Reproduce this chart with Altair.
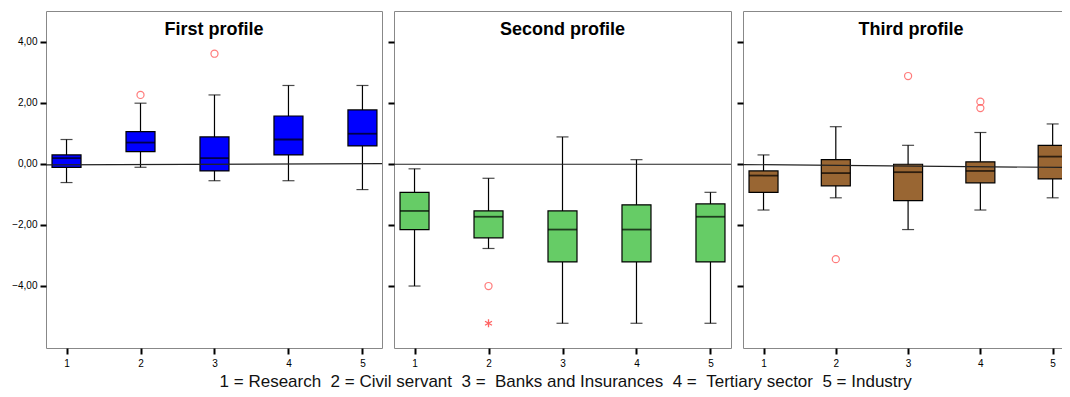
import altair as alt
import pandas as pd

profiles = ["First profile", "Second profile", "Third profile"]
colors = ["#0000FF", "#66CC66", "#996633"]
cats = [1, 2, 3, 4, 5]
NB = "\u00a0"
caption = ("1 = Research " + NB + "2 = Civil servant " + NB + "3 = " + NB + "Banks and Insurances "
           + NB + "4 = " + NB + "Tertiary sector " + NB + "5 = Industry")

# box statistics (lower whisker, Q1, median, Q3, upper whisker)
p1_wlo = [-0.62, -0.12, -0.56, -0.56, -0.85]
p1_q1 = [-0.12, 0.39, -0.24, 0.285, 0.58]
p1_med = [0.18, 0.69, 0.18, 0.79, 0.98]
p1_q3 = [0.285, 1.05, 0.875, 1.56, 1.76]
p1_whi = [0.79, 1.98, 2.25, 2.56, 2.56]

p2_wlo = [-4.01, -2.78, -5.23, -5.23, -5.23]
p2_q1 = [-2.16, -2.43, -3.22, -3.22, -3.22]
p2_med = [-1.55, -1.74, -2.16, -2.16, -1.74]
p2_q3 = [-0.94, -1.55, -1.55, -1.35, -1.32]
p2_whi = [-0.17, -0.48, 0.875, 0.13, -0.94]

p3_wlo = [-1.52, -1.12, -2.16, -1.52, -1.12]
p3_q1 = [-0.94, -0.73, -1.21, -0.63, -0.50]
p3_med = [-0.39, -0.31, -0.28, -0.24, 0.23]
p3_q3 = [-0.24, 0.13, -0.02, 0.06, 0.60]
p3_whi = [0.285, 1.21, 0.60, 1.02, 1.30]

# outliers: panel index, category, value, kind
out_panel = [0, 0, 1, 1, 2, 2, 2, 2]
out_cat = [2, 3, 2, 2, 2, 3, 4, 4]
out_val = [2.25, 3.60, -4.01, -5.23, -3.13, 2.87, 2.03, 1.82]
out_kind = ["o", "o", "o", "*", "o", "o", "o", "o"]

# reference line near zero (left end, right end) per panel
ref_left = [-0.04, -0.02, -0.03]
ref_right = [0.00, -0.02, -0.13]

stats = [
    (p1_wlo, p1_q1, p1_med, p1_q3, p1_whi),
    (p2_wlo, p2_q1, p2_med, p2_q3, p2_whi),
    (p3_wlo, p3_q1, p3_med, p3_q3, p3_whi),
]
widths = [336, 337, 336]
steps = [76.25, 76.25, 74.5]
H = 337
FONT = "Liberation Sans"
STAR = "M0,-1L0,1M-0.87,-0.5L0.87,0.5M-0.87,0.5L0.87,-0.5"


def panel(i):
    wlo, q1, med, q3, whi = stats[i]
    W = widths[i]
    df = pd.DataFrame({"cat": cats, "wlo": wlo, "q1": q1, "med": med, "q3": q3, "whi": whi})
    d0 = 1 - 16 / steps[i]
    xs = alt.Scale(domain=[d0, d0 + W / steps[i]], nice=False, zero=False)
    ys = alt.Scale(domain=[-6.04, 5.0], nice=False, zero=False)
    xaxis = alt.Axis(values=cats, format="d", grid=False, domain=False, tickColor="black",
                     tickWidth=2, tickSize=6, labelFontSize=10, labelFont=FONT,
                     labelColor="black", labelPadding=4, title=None)
    yaxis = alt.Axis(values=[-4, -2, 0, 2, 4], grid=False, domain=False, tickColor="black",
                     tickWidth=2, tickSize=6, labelFontSize=10, labelFont=FONT,
                     labelColor="black", labelPadding=3, title=None, labels=(i == 0),
                     labelExpr="replace(format(datum.value, '.2f'), '.', ',')")
    X = alt.X("cat:Q", scale=xs, axis=xaxis)
    base = alt.Chart(df)
    whisk = base.mark_rule(color="black", strokeWidth=1.2).encode(
        x=X, y=alt.Y("wlo:Q", scale=ys, axis=yaxis), y2="whi:Q")
    cap_lo = base.mark_tick(orient="horizontal", color="black", size=12, thickness=1.2).encode(
        x="cat:Q", y="wlo:Q")
    cap_hi = base.mark_tick(orient="horizontal", color="black", size=12, thickness=1.2).encode(
        x="cat:Q", y="whi:Q")
    box = base.mark_bar(size=29, color=colors[i], stroke="black", strokeWidth=1.2, clip=True).encode(
        x="cat:Q", y="q1:Q", y2="q3:Q")
    median = base.mark_tick(orient="horizontal", color="black", size=29, thickness=1.8, clip=True).encode(
        x="cat:Q", y="med:Q")

    ref = alt.Chart(pd.DataFrame({"y0": [ref_left[i]], "y1": [ref_right[i]]})).mark_rule(
        color="#222222", strokeWidth=1.2).encode(
        x=alt.value(0), x2=alt.value(W), y="y0:Q", y2="y1:Q")

    odf = pd.DataFrame({"p": out_panel, "cat": out_cat, "val": out_val, "kind": out_kind})
    odf = odf[odf.p == i]
    circ = alt.Chart(odf[odf.kind == "o"]).mark_point(
        shape="circle", filled=False, color="#FF4444", size=50, strokeWidth=1.2).encode(
        x="cat:Q", y="val:Q")
    layers = [whisk, cap_lo, cap_hi, box, median, ref, circ]
    stars = odf[odf.kind == "*"]
    if len(stars):
        layers.append(alt.Chart(stars).mark_point(
            shape=STAR, filled=False, color="#FF2222", size=64, strokeWidth=1.3).encode(
            x="cat:Q", y="val:Q"))
    title = alt.Chart(pd.DataFrame({"t": [profiles[i]]})).mark_text(
        font=FONT, fontSize=18, fontWeight="bold", color="black", baseline="alphabetic").encode(
        text="t:N", x=alt.value(W / 2), y=alt.value(24))
    layers.append(title)
    return alt.layer(*layers).properties(width=W, height=H)


chart = alt.hconcat(panel(0), panel(1), panel(2), spacing=2).properties(
    autosize=alt.AutoSizeParams(type="none"),
    padding={"left": 38, "top": 3, "right": 1016, "bottom": 378},
    title=alt.TitleParams(caption, orient="bottom", anchor="middle", fontSize=17,
                          fontWeight="normal", font=FONT, color="#111111", offset=18,
                          baseline="alphabetic", dx=20),
).configure_view(stroke="#888888", strokeWidth=1)

chart.save("out.html", embed_options={"renderer": "svg", "actions": False})
